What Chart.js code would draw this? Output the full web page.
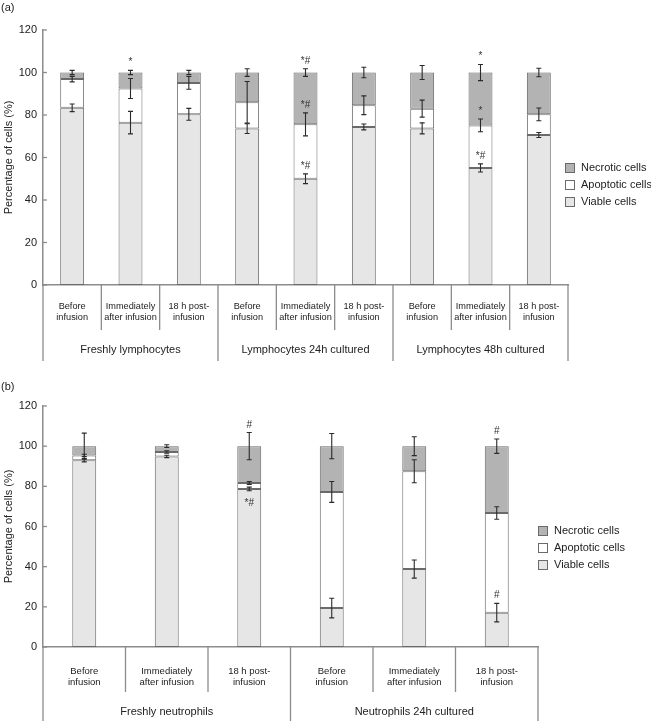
<!DOCTYPE html>
<html>
<head>
<meta charset="utf-8">
<script src="https://cdn.jsdelivr.net/npm/chart.js@4.4.1/dist/chart.umd.min.js"></script>
<style>
  body { margin: 0; background: #fff; }
  canvas { display: block; }
</style>
</head>
<body>
<canvas id="chartA" width="651" height="362"></canvas>
<canvas id="chartB" width="651" height="360"></canvas>
<script>
// shared labels
const timePoints = [['Before', 'infusion'], ['Immediately', 'after infusion'], ['18 h post-', 'infusion']];
const seriesNames = ['Viable cells', 'Apoptotic cells', 'Necrotic cells'];
const yTicks = [0, 20, 40, 60, 80, 100, 120];

// (a) lymphocytes
const lymphGroups = ['Freshly lymphocytes', 'Lymphocytes 24h cultured', 'Lymphocytes 48h cultured'];
const lymphViable = [83.4, 76.4, 80.3, 73.6, 50.0, 74.4, 73.7, 55.1, 70.6];
const lymphApoptotic = [13.5, 16.1, 14.8, 12.4, 25.6, 10.2, 9.3, 20.0, 9.7];
const lymphNecrotic = [3.1, 7.5, 4.9, 14.0, 24.4, 15.4, 17.0, 24.9, 19.7];
const lymphViableErr = [1.8, 5.3, 2.8, 2.3, 2.3, 1.4, 2.6, 1.9, 1.2];
const lymphApoptoticErr = [1.3, 4.7, 3.0, 9.8, 5.4, 4.4, 4.0, 3.0, 3.0];
const lymphNecroticErr = [1.0, 1.0, 1.0, 1.8, 1.8, 2.5, 3.3, 3.8, 2.0];
const lymphViableMarks = ['', '', '', '', '*#', '', '', '*#', ''];
const lymphApoptoticMarks = ['', '', '', '', '*#', '', '', '*', ''];
const lymphNecroticMarks = ['', '*', '', '', '*#', '', '', '*', ''];

// (b) neutrophils
const neutGroups = ['Freshly neutrophils', 'Neutrophils 24h cultured'];
const neutViable = [93.0, 94.9, 78.7, 19.4, 38.8, 17.1];
const neutApoptotic = [2.4, 2.2, 3.0, 57.8, 48.7, 49.6];
const neutNecrotic = [4.6, 2.9, 18.3, 22.8, 12.5, 33.3];
const neutViableErr = [0.8, 0.6, 0.9, 4.9, 4.5, 4.6];
const neutApoptoticErr = [0.6, 0.6, 0.7, 5.2, 5.7, 3.1];
const neutNecroticErr = [6.5, 0.7, 6.8, 6.3, 4.7, 3.6];
const neutViableMarks = ['', '', '*#', '', '', '#'];
const neutApoptoticMarks = ['', '', '', '', '', ''];
const neutNecroticMarks = ['', '', '#', '', '', '#'];
// marks drawn under the error bar instead of over it: [dataset, index]
const neutMarksBelow = [[0, 2]];

const FONT = '"Liberation Sans", Arial, sans-serif';
const fills = ['#e6e6e6', '#ffffff', '#b3b3b3'];
const edge = '#6a6a6a';
const axisGray = '#8c8c8c';

const categoriesFor = (groups) => groups.flatMap(() => timePoints);

const makeDatasets = (values, errs, marks, barPct) => values.map((v, k) => ({
    label: seriesNames[k],
    data: v,
    errors: errs[k],
    marks: marks[k],
    backgroundColor: fills[k],
    borderColor: edge,
    borderWidth: 1,
    borderSkipped: false,
    barPercentage: barPct,
    categoryPercentage: 1
}));

const extras = {
    id: 'extras',
    afterDatasetsDraw(chart, args, opts) {
        const { ctx } = chart;
        const y = chart.scales.y;
        const sets = chart.data.datasets;
        const below = opts.below || [];
        ctx.save();
        ctx.strokeStyle = '#2a2a2a';
        ctx.lineWidth = 1.1;
        sets.forEach((ds, di) => {
            const meta = chart.getDatasetMeta(di);
            ds.data.forEach((v, i) => {
                let top = 0;
                for (let k = 0; k <= di; k++) top += sets[k].data[i];
                const e = ds.errors[i];
                const xc = meta.data[i].x;
                const yHi = y.getPixelForValue(top + e);
                const yLo = y.getPixelForValue(top - e);
                ctx.beginPath();
                ctx.moveTo(xc, yHi); ctx.lineTo(xc, yLo);
                ctx.moveTo(xc - 2.5, yHi); ctx.lineTo(xc + 2.5, yHi);
                ctx.moveTo(xc - 2.5, yLo); ctx.lineTo(xc + 2.5, yLo);
                ctx.stroke();
                const m = ds.marks[i];
                if (m) {
                    ctx.fillStyle = '#333';
                    ctx.font = '10px ' + FONT;
                    ctx.textAlign = 'center';
                    const isBelow = below.some(p => p[0] === di && p[1] === i);
                    if (isBelow) {
                        ctx.textBaseline = 'top';
                        ctx.fillText(m, xc, yLo + 7);
                    } else {
                        ctx.textBaseline = 'alphabetic';
                        ctx.fillText(m, xc, yHi - 5);
                    }
                }
            });
        });
        ctx.restore();
    },
    afterDraw(chart, args, opts) {
        const { ctx, chartArea: ca } = chart;
        const x = chart.scales.x;
        const y = chart.scales.y;
        const n = chart.data.labels.length;
        const step = n > 1 ? x.getPixelForValue(1) - x.getPixelForValue(0) : ca.width;
        const base = ca.bottom;
        const bottom = chart.height - 1;
        ctx.save();
        ctx.strokeStyle = axisGray;
        ctx.lineWidth = 1.3;
        // inward y ticks
        y.ticks.forEach(t => {
            const py = y.getPixelForValue(t.value);
            ctx.beginPath();
            ctx.moveTo(ca.left, py); ctx.lineTo(ca.left + 4, py);
            ctx.stroke();
        });
        // dividers below the axis
        for (let i = 0; i <= n; i++) {
            const px = x.getPixelForValue(0) - step / 2 + i * step;
            const isGroup = i % timePoints.length === 0;
            ctx.beginPath();
            ctx.moveTo(px, base);
            ctx.lineTo(px, isGroup ? bottom : base + 45);
            ctx.stroke();
        }
        // category labels
        ctx.fillStyle = '#222';
        ctx.textAlign = 'center';
        ctx.textBaseline = 'middle';
        ctx.font = opts.labelSize + 'px ' + FONT;
        chart.data.labels.forEach((lab, i) => {
            const px = x.getPixelForValue(i);
            lab.forEach((line, j) => ctx.fillText(line, px, base + opts.labelOffset + j * 11));
        });
        // group labels
        ctx.font = '11px ' + FONT;
        opts.groups.forEach((g, gi) => {
            const a = x.getPixelForValue(gi * timePoints.length) - step / 2;
            ctx.fillText(g, a + step * timePoints.length / 2, base + 65);
        });
        // legend (top series first)
        const sets = chart.data.datasets;
        ctx.textAlign = 'left';
        ctx.font = '11px ' + FONT;
        for (let r = 0; r < sets.length; r++) {
            const ds = sets[sets.length - 1 - r];
            const ly = opts.legendTop + r * 17;
            const lx = ca.right + opts.legendDx;
            ctx.fillStyle = ds.backgroundColor;
            ctx.fillRect(lx, ly - 4.5, 9, 9);
            ctx.strokeStyle = edge;
            ctx.lineWidth = 1;
            ctx.strokeRect(lx + 0.5, ly - 4.5, 9, 9);
            ctx.fillStyle = '#222';
            ctx.fillText(ds.label, lx + 16, ly);
        }
        // panel letter
        ctx.font = '11px ' + FONT;
        ctx.fillText(opts.panel, 1, opts.panelY);
        ctx.restore();
    }
};

const makeOptions = (padTop, padRight, xHeight, pluginOpts) => ({
    responsive: false,
    animation: false,
    layout: { padding: { top: padTop, right: padRight, bottom: 0, left: 0 } },
    plugins: {
        legend: { display: false },
        tooltip: { enabled: false },
        extras: pluginOpts
    },
    scales: {
        x: {
            stacked: true,
            offset: true,
            ticks: { display: false },
            grid: { display: false, drawTicks: false },
            border: { display: true, color: axisGray, width: 1.5 },
            afterFit: (s) => { s.height = xHeight; }
        },
        y: {
            stacked: true,
            min: 0,
            max: 120,
            afterBuildTicks: (s) => { s.ticks = yTicks.map(v => ({ value: v })); },
            ticks: { color: '#222', font: { family: FONT, size: 11 }, padding: 6 },
            grid: { display: false, drawTicks: false },
            border: { display: true, color: axisGray, width: 1.5 },
            title: {
                display: true,
                text: 'Percentage of cells (%)',
                color: '#222',
                font: { family: FONT, size: 11 },
                padding: { top: 2, bottom: 0 }
            },
            afterFit: (s) => { s.width = 43; }
        }
    }
});

new Chart(document.getElementById('chartA'), {
    type: 'bar',
    data: {
        labels: categoriesFor(lymphGroups),
        datasets: makeDatasets(
            [lymphViable, lymphApoptotic, lymphNecrotic],
            [lymphViableErr, lymphApoptoticErr, lymphNecroticErr],
            [lymphViableMarks, lymphApoptoticMarks, lymphNecroticMarks],
            0.41)
    },
    options: makeOptions(30, 83, 77, {
        groups: lymphGroups, labelOffset: 21, labelSize: 9.2, legendTop: 168, legendDx: -3,
        panel: '(a)', panelY: 8, below: []
    }),
    plugins: [extras]
});

new Chart(document.getElementById('chartB'), {
    type: 'bar',
    data: {
        labels: categoriesFor(neutGroups),
        datasets: makeDatasets(
            [neutViable, neutApoptotic, neutNecrotic],
            [neutViableErr, neutApoptoticErr, neutNecroticErr],
            [neutViableMarks, neutApoptoticMarks, neutNecroticMarks],
            0.29)
    },
    options: makeOptions(44, 113, 75, {
        groups: neutGroups, labelOffset: 24, labelSize: 9.5, legendTop: 169, legendDx: 0,
        panel: '(b)', panelY: 25, below: neutMarksBelow
    }),
    plugins: [extras]
});
</script>
</body>
</html>
